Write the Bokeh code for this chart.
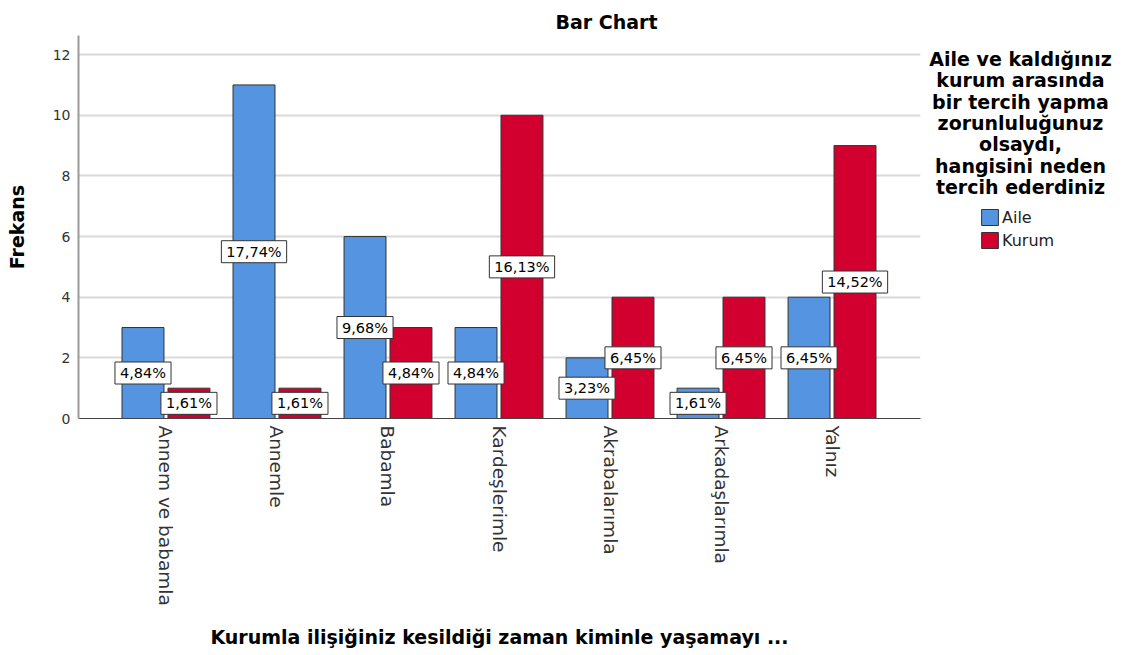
import math
from bokeh.plotting import figure
from bokeh.models import ColumnDataSource, Range1d, FixedTicker, Legend, LegendItem
from bokeh.layouts import row
from bokeh.transform import dodge
from bokeh.core.properties import value
from bokeh.embed import file_html
from bokeh.resources import INLINE

# ---- data ----
categories = ["Annem ve babamla", "Annemle", "Babamla", "Kardeşlerimle",
              "Akrabalarımla", "Arkadaşlarımla", "Yalnız"]
aile_counts = [3, 11, 6, 3, 2, 1, 4]
kurum_counts = [1, 1, 3, 10, 4, 4, 9]
aile_pct = ["4,84%", "17,74%", "9,68%", "4,84%", "3,23%", "1,61%", "6,45%"]
kurum_pct = ["1,61%", "1,61%", "4,84%", "16,13%", "6,45%", "6,45%", "14,52%"]
series_names = ["Aile", "Kurum"]
y_ticks = [0, 2, 4, 6, 8, 10, 12]
legend_title_lines = ["Aile ve kaldığınız", "kurum arasında", "bir tercih yapma",
                      "zorunluluğunuz", "olsaydı,", "hangisini neden", "tercih ederdiniz"]
chart_title = "Bar Chart"
x_title = "Kurumla ilişiğiniz kesildiği zaman kiminle yaşamayı ..."
y_title = "Frekans"

FONT = "DejaVu Sans"
AILE_COLOR = "#5494E1"
KURUM_COLOR = "#D2002F"
OUTLINE = "#333333"

src = ColumnDataSource(dict(
    idx=list(range(len(categories))),
    aile=aile_counts,
    kurum=kurum_counts,
    aile_half=[v / 2 for v in aile_counts],
    kurum_half=[v / 2 for v in kurum_counts],
    aile_pct=aile_pct,
    kurum_pct=kurum_pct,
))

TOTAL_H = 655
TOP, FRAME_H = 35, 383
p = figure(frame_width=842, frame_height=FRAME_H,
           x_range=Range1d(-0.788, 6.797), y_range=Range1d(0, 12.63),
           output_backend="svg", toolbar_location=None,
           min_border_left=78, min_border_right=4,
           min_border_top=TOP, min_border_bottom=TOTAL_H - TOP - FRAME_H)
p.outline_line_color = None
p.background_fill_color = "white"

off = 0.207
bw = 0.378
r1 = p.vbar(x=dodge("idx", -off), top="aile", width=bw, source=src,
            fill_color=AILE_COLOR, line_color=OUTLINE, line_width=1)
r2 = p.vbar(x=dodge("idx", off), top="kurum", width=bw, source=src,
            fill_color=KURUM_COLOR, line_color=OUTLINE, line_width=1)

for xf, yf, tf in [(dodge("idx", -off), "aile_half", "aile_pct"),
                   (dodge("idx", off), "kurum_half", "kurum_pct")]:
    p.text(x=xf, y=yf, text=tf, source=src, text_font=value(FONT),
           text_font_size="14.5px", text_align="center", text_baseline="middle",
           text_color="black", background_fill_color="white",
           border_line_color=OUTLINE, border_line_width=1, padding=(5, 3))

# title
p.title.text = chart_title
p.title.align = "left"
p.title.offset = 477
p.title.standoff = 6
p.title.text_font = FONT
p.title.text_font_style = "bold"
p.title.text_font_size = "19px"
p.title.text_color = "black"

# axes
p.xgrid.visible = False
p.ygrid.ticker = FixedTicker(ticks=y_ticks)
p.ygrid.grid_line_color = "#d9d9d9"
p.ygrid.grid_line_width = 2

p.yaxis.ticker = FixedTicker(ticks=y_ticks)
p.yaxis.axis_line_color = "#9a9a9a"
p.yaxis.axis_line_width = 2
p.yaxis.major_tick_line_color = None
p.yaxis.minor_tick_line_color = None
p.yaxis.major_tick_out = 0
p.yaxis.major_tick_in = 0
p.yaxis.major_label_standoff = 8
p.yaxis.major_label_text_font = FONT
p.yaxis.major_label_text_font_size = "14px"
p.yaxis.major_label_text_color = "#333333"
p.yaxis.axis_label = y_title
p.yaxis.axis_label_text_font = FONT
p.yaxis.axis_label_text_font_style = "bold"
p.yaxis.axis_label_text_font_size = "19px"
p.yaxis.axis_label_text_color = "black"
p.yaxis.axis_label_standoff = 22

p.xaxis.ticker = FixedTicker(ticks=list(range(len(categories))))
p.xaxis.major_label_overrides = {i: c for i, c in enumerate(categories)}
p.xaxis.major_label_orientation = -math.pi / 2
p.xaxis.axis_line_color = "#444444"
p.xaxis.axis_line_width = 1
p.xaxis.major_tick_line_color = None
p.xaxis.minor_tick_line_color = None
p.xaxis.major_tick_out = 0
p.xaxis.major_tick_in = 0
p.xaxis.major_label_standoff = 7
p.xaxis.major_label_text_font = FONT
p.xaxis.major_label_text_font_size = "18.5px"
p.xaxis.major_label_text_color = "#333333"
p.xaxis.axis_label = x_title
p.xaxis.axis_label_text_font = FONT
p.xaxis.axis_label_text_font_style = "bold"
p.xaxis.axis_label_text_font_size = "19px"
p.xaxis.axis_label_text_color = "black"
p.xaxis.axis_label_standoff = 17

# ---- legend panel (separate figure on the right; its frame is aligned with p's) ----
P_W = 78 + 842 + 4
Q_W = 1123 - P_W
FRAME_BOTTOM = TOP + FRAME_H
q = figure(width=Q_W, height=TOTAL_H,
           x_range=Range1d(P_W, 1123), y_range=Range1d(FRAME_BOTTOM, TOP),
           output_backend="svg", toolbar_location=None, min_border=0)
q.axis.visible = False
q.grid.visible = False
q.outline_line_color = None
q.title.visible = False

title_src = ColumnDataSource(dict(
    x=[1020] * len(legend_title_lines),
    y=[58.5 + 21.3 * i for i in range(len(legend_title_lines))],
    t=legend_title_lines,
))
q.text(x="x", y="y", text="t", source=title_src, text_font=value(FONT),
       text_font_style="bold", text_font_size="19px", text_align="center",
       text_baseline="middle", text_color="black")

# same series in the legend panel, not drawn; they only provide the legend keys
d1 = q.vbar(x="idx", top="aile", width=bw, source=src, visible=False,
            fill_color=AILE_COLOR, line_color=OUTLINE, line_width=1)
d2 = q.vbar(x="idx", top="kurum", width=bw, source=src, visible=False,
            fill_color=KURUM_COLOR, line_color=OUTLINE, line_width=1)
legend = Legend(items=[LegendItem(label=series_names[0], renderers=[d1]),
                       LegendItem(label=series_names[1], renderers=[d2])],
                location=(979 - P_W, FRAME_BOTTOM - 250), orientation="vertical",
                glyph_width=21, glyph_height=20, label_height=20, label_width=40,
                spacing=3, label_standoff=2, padding=0, margin=0,
                border_line_color=None, background_fill_alpha=0,
                label_text_font=FONT, label_text_font_size="16px",
                label_text_color="#222222", label_text_baseline="middle")
q.add_layout(legend)

layout = row(p, q)
open("out.html", "w").write(file_html(layout, INLINE))
